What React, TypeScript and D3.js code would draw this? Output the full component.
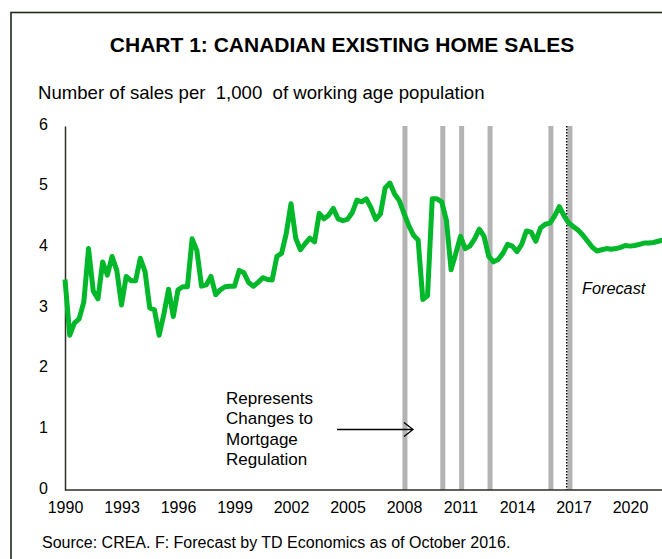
/* eslint-disable */
import React, { useRef, useEffect } from "react";
import * as d3 from "d3";

// ---- data ---- //
// quarterly, starting 1990 Q1
const startYear = 1990;
const salesPer1000 = [
  3.47, 2.55, 2.75, 2.82, 3.1, 3.98, 3.28, 3.15, 3.76, 3.54, 3.85, 3.62,
  3.05, 3.52, 3.45, 3.45, 3.82, 3.6, 3.0, 2.97, 2.55, 2.9, 3.31, 2.86,
  3.3, 3.35, 3.35, 4.14, 3.95, 3.36, 3.38, 3.52, 3.22, 3.3, 3.35, 3.36,
  3.36, 3.62, 3.58, 3.42, 3.36, 3.42, 3.5, 3.47, 3.46, 3.85, 3.9, 4.23,
  4.72, 4.15, 3.96, 4.06, 4.15, 4.09, 4.56, 4.47, 4.53, 4.64, 4.47, 4.44,
  4.46, 4.57, 4.78, 4.75, 4.8, 4.65, 4.46, 4.55, 4.98, 5.06, 4.88, 4.77,
  4.56, 4.36, 4.2, 4.12, 3.14, 3.2, 4.8, 4.8, 4.75, 4.45, 3.63, 3.9,
  4.18, 3.98, 4.02, 4.14, 4.3, 4.18, 3.85, 3.76, 3.8, 3.9, 4.05, 4.02,
  3.93, 4.05, 4.27, 4.25, 4.1, 4.32, 4.38, 4.4, 4.52, 4.67, 4.52, 4.4,
  4.34, 4.28, 4.2, 4.1, 4.0, 3.94, 3.96, 3.98, 3.97, 3.98, 4.0, 4.03,
  4.02, 4.03, 4.05, 4.07, 4.07, 4.08, 4.1, 4.12,
];
// mortgage rule changes (decimal years)
const regulationChanges = [2008.05, 2010.06, 2011.06, 2012.57, 2015.8, 2016.81];
const forecastStart = 2016.64;
const xTicks = [1990, 1993, 1996, 1999, 2002, 2005, 2008, 2011, 2014, 2017, 2020];
const yTicks = [0, 1, 2, 3, 4, 5, 6];
const noteLines = ["Represents", "Changes to", "Mortgage", "Regulation"];

function App() {
  const ref = useRef(null);

  useEffect(() => {
    const svg = d3.select(ref.current);
    svg.selectAll("*").remove();

    const font = "'Liberation Sans', Arial, sans-serif";
    const dims = { left: 65, right: 662, top: 126, bottom: 490 };

    const data = salesPer1000.map((v, i) => ({ year: startYear + i / 4, value: v }));

    const xScale = d3.scaleLinear().domain([1990, 2020]).range([dims.left, 630]);
    const yScale = d3.scaleLinear().domain([0, 6]).range([dims.bottom, dims.top]);

    // frame
    svg
      .append("rect")
      .attr("x", 11)
      .attr("y", 12.5)
      .attr("width", 700)
      .attr("height", 600)
      .attr("fill", "none")
      .attr("stroke", "#1f2a18")
      .attr("stroke-width", 1.6);

    // title
    svg
      .append("text")
      .attr("x", 342)
      .attr("y", 52)
      .attr("text-anchor", "middle")
      .style("font-family", font)
      .style("font-weight", "bold")
      .style("font-size", "21px")
      .text("CHART 1: CANADIAN EXISTING HOME SALES");

    svg
      .append("text")
      .attr("x", 38)
      .attr("y", 99)
      .style("font-family", font)
      .style("font-size", "18.6px")
      .style("white-space", "pre")
      .text("Number of sales per  1,000  of working age population");

    // regulation bars
    svg
      .append("g")
      .selectAll("rect")
      .data(regulationChanges)
      .join("rect")
      .attr("x", (d) => xScale(d) - 2.5)
      .attr("y", yScale(6))
      .attr("width", 5)
      .attr("height", yScale(0) - yScale(6))
      .attr("fill", "#b3b3b3");

    // forecast divider
    svg
      .append("line")
      .attr("x1", xScale(forecastStart))
      .attr("x2", xScale(forecastStart))
      .attr("y1", yScale(6))
      .attr("y2", yScale(0))
      .attr("stroke", "#000")
      .attr("stroke-width", 1.5)
      .attr("stroke-dasharray", "1.5,1.5");

    // axes
    const xAxis = svg
      .append("g")
      .attr("transform", `translate(0,${dims.bottom})`)
      .call(
        d3
          .axisBottom(xScale)
          .tickValues(xTicks)
          .tickFormat(d3.format("d"))
          .tickSize(0)
          .tickPadding(12)
      );
    xAxis.select(".domain").attr("d", `M${dims.left},0H${dims.right}`).attr("stroke", "#2a2f22").attr("stroke-width", 1.5);
    xAxis.selectAll("text").style("font-family", font).style("font-size", "16px");

    const yAxis = svg
      .append("g")
      .attr("transform", `translate(${dims.left},0)`)
      .call(
        d3
          .axisLeft(yScale)
          .tickValues(yTicks)
          .tickFormat(d3.format("d"))
          .tickSize(0)
          .tickPadding(17)
      );
    yAxis.select(".domain").attr("stroke", "#2a2f22").attr("stroke-width", 1.5);
    yAxis.selectAll("text").style("font-family", font).style("font-size", "16px").attr("dy", "0.2em");

    // series
    const line = d3
      .line()
      .x((d) => xScale(d.year))
      .y((d) => yScale(d.value));

    svg
      .append("path")
      .datum(data)
      .attr("d", line)
      .attr("fill", "none")
      .attr("stroke", "#00b82a")
      .attr("stroke-width", 5)
      .attr("stroke-linejoin", "round");

    // annotations
    svg
      .append("text")
      .attr("x", 582)
      .attr("y", 294)
      .style("font-family", font)
      .style("font-size", "16.3px")
      .style("font-style", "italic")
      .text("Forecast");

    svg
      .append("g")
      .selectAll("text")
      .data(noteLines)
      .join("text")
      .attr("x", 226)
      .attr("y", (d, i) => 404 + i * 20.3)
      .style("font-family", font)
      .style("font-size", "17px")
      .text((d) => d);

    const arrowY = 429.5;
    svg
      .append("path")
      .attr("d", `M337,${arrowY}H413M404,${arrowY - 7}L413,${arrowY}L404,${arrowY + 7}`)
      .attr("fill", "none")
      .attr("stroke", "#000")
      .attr("stroke-width", 1.3);

    svg
      .append("text")
      .attr("x", 42)
      .attr("y", 548)
      .style("font-family", font)
      .style("font-size", "16px")
      .text("Source: CREA. F: Forecast by TD Economics as of October 2016.");
  }, []);

  return (
    <svg
      ref={ref}
      width={662}
      height={559}
      style={{ position: "absolute", left: 0, top: 0, background: "#fff" }}
    />
  );
}

export default App;
